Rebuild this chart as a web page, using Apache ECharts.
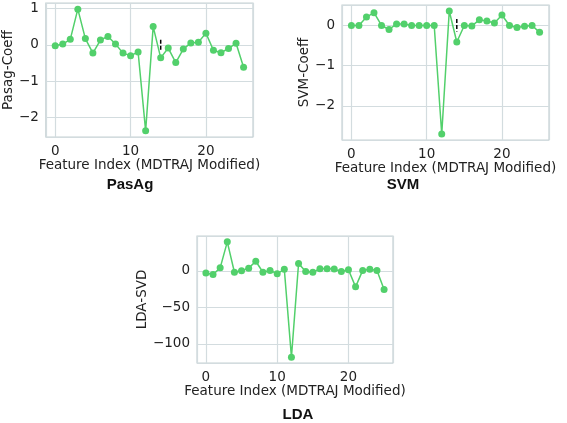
<!DOCTYPE html>
<html><head><meta charset="utf-8">
<script src="https://cdn.jsdelivr.net/npm/echarts@6/dist/echarts.min.js"></script>
<style>html,body{margin:0;padding:0;background:#fff}#c{width:567px;height:423px}</style>
</head><body><div id="c"></div>
<script>
const featureIndex = [0,1,2,3,4,5,6,7,8,9,10,11,12,13,14,15,16,17,18,19,20,21,22,23,24,25];
const pasagCoeff = [-0.03,0.02,0.15,0.98,0.17,-0.23,0.13,0.23,0.02,-0.23,-0.3,-0.2,-2.37,0.5,-0.36,-0.09,-0.49,-0.12,0.05,0.07,0.32,-0.15,-0.22,-0.1,0.04,-0.62];
const svmCoeff = [0,0,0.21,0.32,0,-0.1,0.04,0.04,0,0,0,0,-2.7,0.36,-0.41,0,-0.01,0.14,0.11,0.06,0.26,0,-0.05,-0.02,0,-0.17];
const ldaSvd = [-3,-5,4,39.5,-2,0,3.6,13,-2,0.5,-4,2,-118,10,-1,-2,2.7,2.7,2.3,-1,1.4,-22,0.5,2,0.5,-25.5];
const pasagMarker = [[14,0.14],[14,-0.16]];
const svmMarker = [[14,0.16],[14,-0.15]];
const titles = ['PasAg','SVM','LDA'];
const yNames = ['Pasag-Coeff','SVM-Coeff','LDA-SVD'];
const xName = 'Feature Index (MDTRAJ Modified)';

const green = '#52d06b';
const gridColor = '#d3dcdf';
const borderColor = '#c6d1d4';
const FS = 13.5;
const tickFont = {fontFamily:'DejaVu Sans', fontSize:FS, color:'#222'};

const grids = [
  {left:44, top:3, width:209, height:134},
  {left:342, top:5, width:207, height:135},
  {left:197, top:236, width:196, height:127}
];
const yRanges = [[-2.54,1.15],[-2.85,0.51],[-126,47.5]];
const nameGaps = [29,29,39];

const fmt = v => String(v).replace('-', '\u2212');
const chart = echarts.init(document.getElementById('c'));
const xAxes = grids.map((g,i)=>({
  type:'value', gridIndex:i, min:-1.25, max:26.25, splitNumber:3,
  name:xName, nameLocation:'middle', nameGap:21, nameTextStyle:{fontFamily:'DejaVu Sans',fontSize:FS,color:'#222'},
  axisLine:{show:false}, axisTick:{show:false},
  axisLabel:Object.assign({margin:7, showMinLabel:false, showMaxLabel:false, formatter:fmt}, tickFont),
  splitLine:{show:true, lineStyle:{color:gridColor, width:1.2}}
}));
const yAxes = grids.map((g,i)=>({
  type:'value', gridIndex:i, min:yRanges[i][0], max:yRanges[i][1], splitNumber:3,
  name:yNames[i], nameLocation:'middle', nameGap:nameGaps[i], nameRotate:90,
  nameTextStyle:{fontFamily:'DejaVu Sans',fontSize:FS,color:'#222'},
  axisLine:{show:false}, axisTick:{show:false},
  axisLabel:Object.assign({margin:7, showMinLabel:false, showMaxLabel:false, formatter:fmt}, tickFont),
  splitLine:{show:true, lineStyle:{color:gridColor, width:1.2}}
}));
const mk = (arr,i)=>({type:'line', xAxisIndex:i, yAxisIndex:i, data:featureIndex.map((x,k)=>[x,arr[k]]),
  symbol:'circle', symbolSize:7, showSymbol:true, itemStyle:{color:green}, lineStyle:{color:green,width:1.5}, animation:false, z:3});
const mkr = (arr,i)=>({type:'line', xAxisIndex:i, yAxisIndex:i, data:arr, symbol:'none',
  lineStyle:{color:'#000',width:1.5,type:[4,2]}, animation:false, z:4});
const titleStyle = {fontFamily:'Liberation Sans',fontWeight:'bold',fontSize:15,color:'#111'};
chart.setOption({
  animation:false,
  title:[
    {text:titles[0], left:125, top:172, textAlign:'center', textStyle:titleStyle},
    {text:titles[1], left:398, top:172, textAlign:'center', textStyle:titleStyle},
    {text:titles[2], left:293, top:402, textAlign:'center', textStyle:titleStyle}
  ],
  grid:grids.map(g=>Object.assign({show:true, borderColor:borderColor, borderWidth:1.2, backgroundColor:'#fff', containLabel:false}, g)),
  xAxis:xAxes, yAxis:yAxes,
  series:[mk(pasagCoeff,0), mk(svmCoeff,1), mk(ldaSvd,2), mkr(pasagMarker,0), mkr(svmMarker,1)]
});
</script></body></html>
